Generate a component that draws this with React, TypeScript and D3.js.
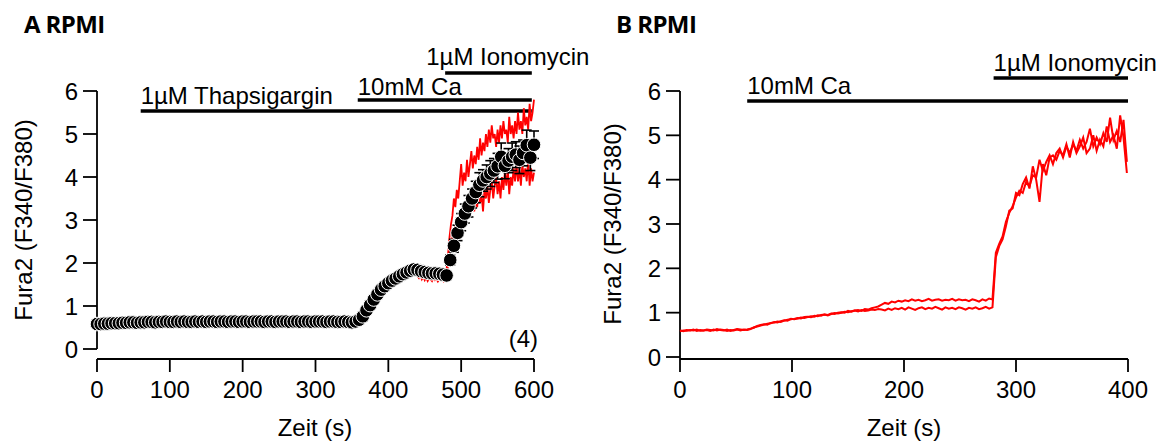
import React from "react";
import * as d3 from "d3";

// ---------- Panel A data (mean ± SEM, n=4) ----------
const timesA = d3.range(0, 601, 5);
const meanA = [
  0.58, 0.58, 0.59, 0.59, 0.6, 0.6, 0.6, 0.61, 0.61, 0.62, 0.62, 0.61,
  0.62, 0.62, 0.63, 0.63, 0.62, 0.63, 0.63, 0.64, 0.63, 0.63, 0.64, 0.63,
  0.64, 0.63, 0.63, 0.64, 0.63, 0.64, 0.63, 0.64, 0.64, 0.63, 0.64, 0.64,
  0.63, 0.64, 0.64, 0.63, 0.64, 0.64, 0.63, 0.64, 0.64, 0.64, 0.63, 0.64,
  0.64, 0.63, 0.64, 0.64, 0.64, 0.63, 0.64, 0.64, 0.63, 0.64, 0.64, 0.63,
  0.64, 0.64, 0.64, 0.63, 0.64, 0.64, 0.63, 0.63, 0.64, 0.63, 0.62, 0.64,
  0.68, 0.76, 0.9, 1.02, 1.15, 1.27, 1.38, 1.46, 1.53, 1.59, 1.64, 1.69, 1.74,
  1.78, 1.82, 1.85, 1.84, 1.81, 1.79, 1.77, 1.76, 1.76, 1.75, 1.73, 1.71,
  2.07, 2.4, 2.7, 2.95, 3.15, 3.32, 3.5, 3.65, 3.82, 3.92, 4.0, 4.08,
  4.15, 4.25, 4.47, 4.26, 4.38, 4.47, 4.52, 4.4, 4.56, 4.74, 4.45, 4.75,
];
const errTimesA = d3.range(485, 601, 5);
const errA = [
  0.12, 0.15, 0.18, 0.2, 0.22, 0.25, 0.22, 0.25, 0.28, 0.25, 0.28, 0.3,
  0.28, 0.3, 0.32, 0.3, 0.28, 0.32, 0.3, 0.32, 0.3, 0.35, 0.3, 0.32,
];
// individual traces (red) in panel A
const redTimesA = d3.range(440, 601, 2);
const redA1 = [
  1.95, 1.88, 1.92, 1.86, 1.9, 1.84, 1.88, 1.82, 1.86, 1.8, 1.84, 1.78, 1.82, 1.79, 1.83, 1.78, 1.8, 1.76, 1.79, 1.74,
  1.85, 2.2, 2.6, 2.9, 3.1, 3.5, 3.3, 3.7, 3.5, 3.9,
  4.3, 3.8, 4.1, 3.9, 4.4, 4.0, 4.3, 4.6, 4.2, 4.5,
  4.3, 4.7, 4.4, 4.9, 4.5, 4.8, 4.6, 5.0, 4.7, 5.1,
  4.8, 5.2, 4.9, 5.0, 4.7, 5.1, 4.8, 5.2, 4.9, 5.3,
  5.0, 5.1, 4.8, 5.4, 5.0, 5.2, 4.9, 5.3, 5.0, 5.5,
  5.1, 5.3, 5.0, 5.6, 5.2, 5.4, 5.1, 5.7, 5.3, 5.5,
  5.8,
];
const redA2 = [
  1.7, 1.65, 1.72, 1.62, 1.68, 1.6, 1.66, 1.58, 1.64, 1.62, 1.58, 1.65, 1.6, 1.63, 1.57, 1.62, 1.6, 1.64, 1.58, 1.66,
  1.7, 1.95, 2.2, 2.4, 2.6, 2.7, 2.9, 2.8, 3.0, 2.9,
  3.2, 3.0, 3.3, 3.1, 3.4, 3.2, 3.5, 3.3, 3.6, 3.2,
  3.5, 3.3, 3.7, 3.4, 3.6, 3.2, 3.7, 3.5, 3.8, 3.4,
  3.7, 3.9, 3.5, 3.8, 4.0, 3.6, 3.9, 3.5, 4.0, 3.7,
  4.1, 3.8, 4.2, 3.6, 4.0, 3.8, 4.2, 3.9, 4.3, 3.9,
  4.2, 3.8, 4.3, 4.0, 4.2, 3.9, 4.4, 3.8, 4.2, 3.9,
  4.1,
];

// ---------- Panel B data (two traces) ----------
const timesB = d3.range(0, 400, 3);
const traceB1 = [
  0.6, 0.58, 0.61, 0.6, 0.62, 0.59, 0.61, 0.6, 0.62, 0.61, 0.6, 0.63, 0.61, 0.6, 0.62, 0.59, 0.61, 0.63, 0.62, 0.61,
  0.62, 0.64, 0.66, 0.7, 0.72, 0.74, 0.73, 0.77, 0.78, 0.8, 0.79, 0.82, 0.84, 0.85,
  0.86, 0.88, 0.87, 0.9, 0.91, 0.9, 0.93, 0.92, 0.95, 0.96, 0.95, 0.98, 0.97, 1.0, 1.01, 1.0, 1.04, 1.02, 1.05, 1.06, 1.04, 1.08, 1.07, 1.1, 1.12, 1.14,
  1.18, 1.22, 1.2, 1.25, 1.23, 1.27, 1.25, 1.28, 1.26, 1.3, 1.27, 1.29, 1.26, 1.28, 1.31, 1.27, 1.29, 1.3, 1.27, 1.29,
  1.28, 1.31, 1.27, 1.3, 1.28, 1.29, 1.26, 1.3, 1.28, 1.25, 1.3, 1.27, 1.32, 1.3,
  2.35, 2.55, 2.72, 3.05, 3.25, 3.4, 3.6, 3.75, 3.7, 3.95, 3.85, 4.1, 4.05, 4.45, 4.2, 4.4, 4.55, 4.35, 4.6, 4.7,
  4.5, 4.75, 4.6, 4.8, 4.65, 4.9, 4.7, 4.85, 5.15, 4.75, 4.95, 4.8, 5.05, 4.85, 5.4, 4.9, 5.1, 4.85, 5.35, 4.4,
];
const traceB2 = [
  0.58, 0.6, 0.59, 0.61, 0.6, 0.62, 0.59, 0.6, 0.61, 0.59, 0.62, 0.6, 0.62, 0.61, 0.59, 0.61, 0.6, 0.62, 0.6, 0.62,
  0.61, 0.63, 0.67, 0.69, 0.71, 0.73, 0.75, 0.76, 0.79, 0.78, 0.81, 0.83, 0.82, 0.86,
  0.85, 0.87, 0.89, 0.88, 0.9, 0.92, 0.91, 0.94, 0.93, 0.96, 0.94, 0.97, 0.99, 0.98, 1.0, 1.02, 1.01, 1.03, 1.05, 1.03, 1.06, 1.04, 1.05, 1.07, 1.06, 1.08,
  1.07, 1.05, 1.09, 1.06, 1.1, 1.08, 1.11, 1.07, 1.12, 1.09, 1.06, 1.1, 1.12, 1.08, 1.11, 1.09, 1.13, 1.1, 1.07, 1.12,
  1.09, 1.11, 1.08, 1.12, 1.1, 1.07, 1.11, 1.09, 1.12, 1.08, 1.1, 1.13, 1.09, 1.12,
  2.25, 2.5, 2.65, 2.95, 3.3, 3.35, 3.7, 3.65, 3.9, 4.05, 3.8, 4.3, 4.0, 3.5, 4.35, 4.1, 4.5, 4.55, 4.45, 4.65,
  4.55, 4.8, 4.5, 4.85, 4.6, 4.75, 4.95, 4.6, 4.7, 5.0, 4.65, 4.9, 4.75, 5.2, 4.85, 5.0, 4.7, 5.45, 4.95, 4.15,
];

// ---------- Axis ticks & labels ----------
const yTicks = [0, 1, 2, 3, 4, 5, 6];
const xTicksA = [0, 100, 200, 300, 400, 500, 600];
const xTicksB = [0, 100, 200, 300, 400];
const yLabel = "Fura2 (F340/F380)";
const xLabel = "Zeit (s)";

// treatment bars: [label, start s, end s]
const barsA = [
  { label: "1µM Thapsigargin", start: 60, end: 597, level: 0 },
  { label: "10mM Ca", start: 358, end: 597, level: 1 },
  { label: "1µM Ionomycin", start: 478, end: 597, level: 2, textStart: 452 },
];
const barsB = [
  { label: "10mM Ca", start: 60, end: 400, level: 1 },
  { label: "1µM Ionomycin", start: 280, end: 400, level: 2 },
];

const FONT = "'Liberation Sans', Arial, sans-serif";
const FS = 24;

export default function App() {
  const xA = d3.scaleLinear().domain([0, 600]).range([97, 534]);
  const yA = d3.scaleLinear().domain([0, 6]).range([349, 91]);
  const xB = d3.scaleLinear().domain([0, 400]).range([680, 1128]);
  const yB = d3.scaleLinear().domain([0, 6]).range([357, 91]);

  const lineA = d3
    .line<number>()
    .x((_, i) => xA(redTimesA[i]))
    .y((d) => yA(d));
  const lineB = d3
    .line<number>()
    .x((_, i) => xB(timesB[i]))
    .y((d) => yB(d));

  const barY = [111, 100, 73];
  const barYB = [111, 101, 78];
  const textY = [104, 95, 65];
  const textYB = [104, 94, 71];

  const yAxis = (x: number, y: d3.ScaleLinear<number, number>, bottom: number) => (
    <g>
      <line x1={x} x2={x} y1={y(6)} y2={bottom} stroke="#000" strokeWidth={1.8} />
      {yTicks.map((t) => (
        <g key={t}>
          <line x1={x - 14} x2={x} y1={y(t)} y2={y(t)} stroke="#000" strokeWidth={1.8} />
          <text x={x - 19} y={y(t) + 8.5} textAnchor="end" fontSize={FS} fontFamily={FONT}>
            {t}
          </text>
        </g>
      ))}
    </g>
  );

  const xAxis = (x: d3.ScaleLinear<number, number>, ticks: number[], yLine: number) => (
    <g>
      <line x1={x(ticks[0])} x2={x(ticks[ticks.length - 1])} y1={yLine} y2={yLine} stroke="#000" strokeWidth={1.8} />
      {ticks.map((t) => (
        <g key={t}>
          <line x1={x(t)} x2={x(t)} y1={yLine} y2={yLine + 13} stroke="#000" strokeWidth={1.8} />
          <text x={x(t)} y={398} textAnchor="middle" fontSize={FS} fontFamily={FONT}>
            {t}
          </text>
        </g>
      ))}
    </g>
  );

  return (
    <svg
      width={1167}
      height={441}
      style={{ position: "absolute", left: 0, top: 0, background: "#fff" }}
    >
      <rect x={0} y={0} width={1167} height={441} fill="#fff" />
      {/* Titles */}
      <text x={24} y={33} fontSize={24} fontWeight={700} fontFamily="'Open Sans', sans-serif" letterSpacing={-0.6}>
        A RPMI
      </text>
      <text x={616} y={33} fontSize={24} fontWeight={700} fontFamily="'Open Sans', sans-serif" letterSpacing={-0.6}>
        B RPMI
      </text>

      {/* ---------- Panel A ---------- */}
      {yAxis(97, yA, 349)}
      {xAxis(xA, xTicksA, 359)}
      <text transform={`translate(32,220) rotate(-90)`} textAnchor="middle" fontSize={FS} fontFamily={FONT}>
        {yLabel}
      </text>
      <text x={315} y={436} textAnchor="middle" fontSize={FS} fontFamily={FONT}>
        {xLabel}
      </text>
      <text x={538} y={347} textAnchor="end" fontSize={FS} fontFamily={FONT}>
        (4)
      </text>
      {barsA.map((b) => (
        <g key={b.label}>
          <line x1={xA(b.start)} x2={xA(b.end)} y1={barY[b.level]} y2={barY[b.level]} stroke="#000" strokeWidth={3.5} />
          <text
            x={xA(b.textStart ?? b.start)}
            y={textY[b.level]}
            fontSize={FS}
            fontFamily={FONT}
          >
            {b.label}
          </text>
        </g>
      ))}
      <path d={lineA(redA1) ?? ""} fill="none" stroke="#ff0000" strokeWidth={1.8} />
      <path d={lineA(redA2) ?? ""} fill="none" stroke="#ff0000" strokeWidth={1.8} />
      {errTimesA.map((t, i) => {
        const m = meanA[timesA.indexOf(t)];
        return (
          <g key={t} stroke="#000" strokeWidth={1.6}>
            <line x1={xA(t)} x2={xA(t)} y1={yA(m - errA[i])} y2={yA(m + errA[i])} />
            <line x1={xA(t) - 5} x2={xA(t) + 5} y1={yA(m + errA[i])} y2={yA(m + errA[i])} />
            <line x1={xA(t) - 5} x2={xA(t) + 5} y1={yA(m - errA[i])} y2={yA(m - errA[i])} />
          </g>
        );
      })}
      {meanA.map((v, i) => (
        <circle key={i} cx={xA(timesA[i])} cy={yA(v)} r={6.8} fill="#000" stroke="#fff" strokeWidth={1} />
      ))}

      {/* ---------- Panel B ---------- */}
      {yAxis(680, yB, 359)}
      {xAxis(xB, xTicksB, 359)}
      <text transform={`translate(621,224) rotate(-90)`} textAnchor="middle" fontSize={FS} fontFamily={FONT}>
        {yLabel}
      </text>
      <text x={904} y={436} textAnchor="middle" fontSize={FS} fontFamily={FONT}>
        {xLabel}
      </text>
      {barsB.map((b) => (
        <g key={b.label}>
          <line x1={xB(b.start)} x2={xB(b.end)} y1={barYB[b.level]} y2={barYB[b.level]} stroke="#000" strokeWidth={3.5} />
          <text x={xB(b.start)} y={textYB[b.level]} fontSize={FS} fontFamily={FONT}>
            {b.label}
          </text>
        </g>
      ))}
      <path d={lineB(traceB1) ?? ""} fill="none" stroke="#ff0000" strokeWidth={2} />
      <path d={lineB(traceB2) ?? ""} fill="none" stroke="#ff0000" strokeWidth={2} />
    </svg>
  );
}
